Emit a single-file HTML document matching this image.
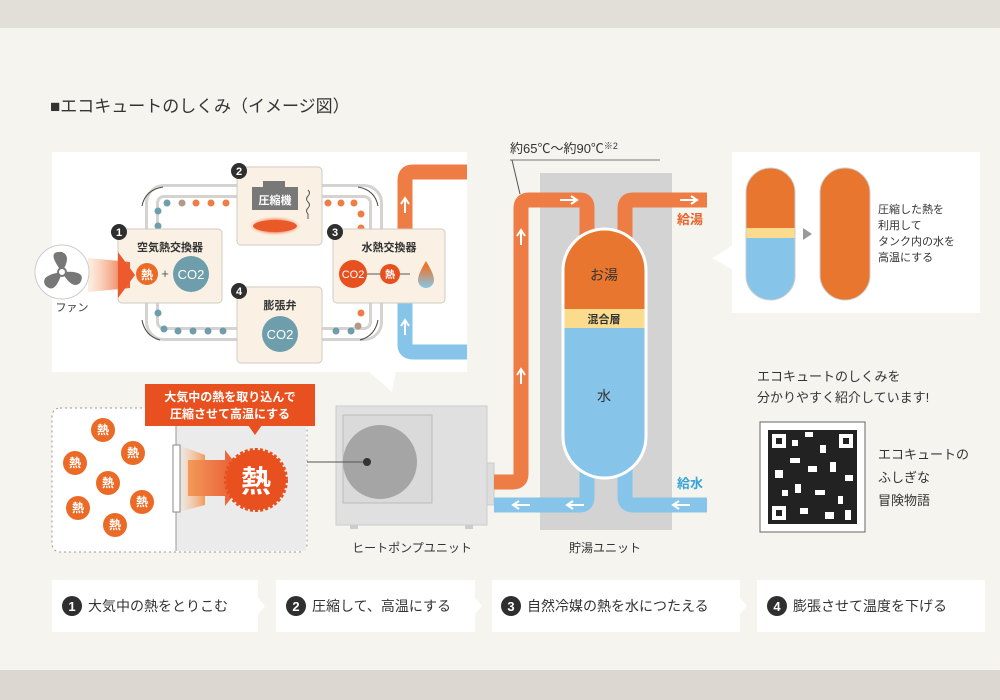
<!DOCTYPE html>
<html><head><meta charset="utf-8"><style>
html,body{margin:0;padding:0;width:1000px;height:700px;overflow:hidden;background:#f6f4ef}
svg{display:block}
text{font-family:"Liberation Sans","Noto Sans CJK JP",sans-serif}
</style></head><body>
<svg width="1000" height="700" viewBox="0 0 1000 700" xmlns="http://www.w3.org/2000/svg">
<defs>
<linearGradient id="fan" x1="0" x2="1"><stop offset="0" stop-color="#f7c79a" stop-opacity="0.3"/><stop offset="1" stop-color="#ec5a2e"/></linearGradient>
<linearGradient id="hg" x1="0" x2="1"><stop offset="0" stop-color="#f8c69a" stop-opacity="0"/><stop offset="1" stop-color="#f29a5a"/></linearGradient>
<linearGradient id="ar" x1="0" x2="1"><stop offset="0" stop-color="#f29a5a"/><stop offset="1" stop-color="#e84e2c"/></linearGradient>
<linearGradient id="drop" x1="0" y1="0" x2="0" y2="1"><stop offset="0.2" stop-color="#e9762f"/><stop offset="1" stop-color="#86c8e8"/></linearGradient>
<radialGradient id="glow"><stop offset="0.5" stop-color="#ea5a28"/><stop offset="1" stop-color="#fbd6c0" stop-opacity="0"/></radialGradient>
</defs>
<rect x="0" y="0" width="1000" height="28" fill="#e2ded8"/>
<rect x="0" y="670" width="1000" height="30" fill="#dcd8d1"/>
<text x="50" y="112" font-size="17" fill="#333">■エコキュートのしくみ（イメージ図）</text>

<!-- top-left panel -->
<rect x="52" y="152" width="415" height="220" fill="#fff"/>
<polygon points="368,371 396,371 392,392" fill="#fff"/>
<!-- pipes right of panel -->
<path d="M405,232 V180 Q405,172 413,172 H467" fill="none" stroke="#ee7d45" stroke-width="15"/>
<path d="M405,300 V345 Q405,352 413,352 H467" fill="none" stroke="#86c5e9" stroke-width="15"/>
<path d="M405,213 v-14 m-4,5 l4,-6 l4,6" stroke="#fff" stroke-width="2" fill="none"/>
<path d="M405,335 v-14 m-4,5 l4,-6 l4,6" stroke="#fff" stroke-width="2" fill="none"/>
<!-- loop -->
<rect x="152" y="191" width="224" height="143" rx="12" fill="none" stroke="#d5d3d0" stroke-width="14"/>
<rect x="152" y="191" width="224" height="143" rx="12" fill="none" stroke="#fff" stroke-width="8"/>
<g fill="#6e9dac">
<circle cx="158" cy="211" r="3.5"/><circle cx="158" cy="226" r="3.5"/><circle cx="167" cy="203" r="3.5"/>
<circle cx="158" cy="313" r="3.5"/><circle cx="164" cy="329" r="3.5"/><circle cx="178" cy="331" r="3.5"/><circle cx="193" cy="331" r="3.5"/><circle cx="208" cy="331" r="3.5"/><circle cx="223" cy="331" r="3.5"/>
<circle cx="336" cy="331" r="3.5"/><circle cx="351" cy="331" r="3.5"/>
</g>
<g fill="#ee7d45"><circle cx="196" cy="203" r="3.5"/><circle cx="211" cy="203" r="3.5"/><circle cx="226" cy="203" r="3.5"/>
<circle cx="328" cy="203" r="3.5"/><circle cx="341" cy="203" r="3.5"/><circle cx="354" cy="203" r="3.5"/><circle cx="361" cy="214" r="3.5"/><circle cx="361" cy="228" r="3.5"/><circle cx="361" cy="313" r="3.5"/></g>
<circle cx="182" cy="203" r="3.5" fill="#b19a86"/><circle cx="358" cy="326" r="3.5" fill="#b19a86"/>
<g fill="none" stroke="#444" stroke-width="1"><path d="M142,206 Q145,190 163,187"/><path d="M358,187 Q375,190 378,206"/><path d="M142,320 Q145,336 160,340"/><path d="M378,320 Q375,336 360,340"/></g>
<!-- boxes -->
<g fill="#faf1e4" stroke="#cfcac3" stroke-width="1">
<rect x="118" y="229" width="104" height="74" rx="4"/>
<rect x="237" y="167" width="85" height="78" rx="4"/>
<rect x="333" y="229" width="112" height="74" rx="4"/>
<rect x="237" y="287" width="85" height="76" rx="4"/>
</g>
<g fill="#2f2f2f"><circle cx="119" cy="232" r="8"/><circle cx="239" cy="171" r="8"/><circle cx="335" cy="232" r="8"/><circle cx="239" cy="291" r="8"/></g>
<g fill="#fff" font-size="11" font-weight="bold" text-anchor="middle"><text x="119" y="236">1</text><text x="239" y="175">2</text><text x="335" y="236">3</text><text x="239" y="295">4</text></g>
<g font-size="11" fill="#333" text-anchor="middle" font-weight="bold"><text x="170" y="251">空気熱交換器</text><text x="389" y="251">水熱交換器</text><text x="280" y="309">膨張弁</text></g>
<circle cx="147" cy="274" r="11" fill="#ea6a26"/><text x="147" y="279" font-size="12" fill="#fff" text-anchor="middle" font-weight="bold">熱</text>
<text x="165" y="278" font-size="13" fill="#555" text-anchor="middle">+</text>
<circle cx="191" cy="274" r="18" fill="#6e9dac"/><text x="191" y="279" font-size="13" fill="#fff" text-anchor="middle">CO2</text>
<circle cx="280" cy="334" r="18" fill="#6e9dac"/><text x="280" y="339" font-size="13" fill="#fff" text-anchor="middle">CO2</text>
<line x1="355" y1="274" x2="410" y2="274" stroke="#555"/>
<circle cx="353" cy="274" r="14" fill="#e8511f"/><text x="353" y="278" font-size="11" fill="#fff" text-anchor="middle">CO2</text>
<circle cx="390" cy="274" r="10" fill="#e8511f"/><text x="390" y="278" font-size="10" fill="#fff" text-anchor="middle" font-weight="bold">熱</text>
<path d="M426,261 Q418,274 418,280 a8,8 0 0 0 16,0 Q434,274 426,261Z" fill="url(#drop)"/>
<!-- compressor -->
<ellipse cx="275" cy="226" rx="27" ry="10" fill="url(#glow)"/>
<ellipse cx="275" cy="226" rx="22" ry="6" fill="#ea5a28"/>
<rect x="263" y="181" width="22" height="6" fill="#787878"/>
<rect x="252" y="187" width="46" height="23" fill="#787878"/>
<text x="275" y="204" font-size="11" fill="#fff" text-anchor="middle" font-weight="bold">圧縮機</text>
<path d="M308,190 q3,3 0,6 q-3,3 0,6 q3,3 0,6 q-3,3 0,6 v5" stroke="#555" fill="none"/>
<!-- fan -->
<polygon points="88,258 130,262 130,288 88,292" fill="url(#fan)"/>
<polygon points="118,252 135,275 118,298" fill="#ec5a2e"/>
<circle cx="62" cy="272" r="27" fill="#fff" stroke="#ccc"/>
<g fill="#777"><path d="M62,272 Q45,250 62,252 Q72,256 62,272"/><path d="M62,272 Q88,270 80,283 Q72,290 62,272"/><path d="M62,272 Q55,296 45,285 Q40,275 62,272"/></g>
<circle cx="62" cy="272" r="4" fill="#fff" stroke="#777" stroke-width="2"/>
<text x="72" y="311" font-size="11" fill="#333" text-anchor="middle">ファン</text>

<!-- lower-left panel -->
<rect x="52" y="408" width="255" height="144" rx="8" fill="#fff" stroke="#999" stroke-dasharray="2,3"/>
<rect x="176" y="409" width="130" height="142" fill="#ebebeb"/>
<line x1="176" y1="409" x2="176" y2="551" stroke="#999"/>
<polygon points="178,445 205,455 205,505 178,512" fill="url(#hg)"/>
<polygon points="188,460 225,460 225,450 247,478 225,506 225,496 188,496" fill="url(#ar)"/>
<rect x="173" y="445" width="7" height="67" fill="#fff" stroke="#888"/>
<g fill="#ea6a26"><circle cx="103" cy="430" r="12"/><circle cx="133" cy="453" r="12"/><circle cx="75" cy="463" r="12"/><circle cx="108" cy="483" r="12"/><circle cx="142" cy="502" r="12"/><circle cx="78" cy="508" r="12"/><circle cx="115" cy="525" r="12"/></g>
<g fill="#fff" font-size="12" font-weight="bold" text-anchor="middle"><text x="103" y="434">熱</text><text x="133" y="457">熱</text><text x="75" y="467">熱</text><text x="108" y="487">熱</text><text x="142" y="506">熱</text><text x="78" y="512">熱</text><text x="115" y="529">熱</text></g>
<circle cx="256" cy="480" r="30" fill="#e8511f" stroke="#e8511f" stroke-width="4" stroke-dasharray="3,2"/>
<text x="256" y="492" font-size="30" fill="#fff" text-anchor="middle" font-weight="bold">熱</text>
<rect x="145" y="384" width="170" height="42" fill="#e8511f"/>
<polygon points="248,425 262,425 255,435" fill="#e8511f"/>
<text x="230" y="401" font-size="12" fill="#fff" text-anchor="middle" font-weight="bold">大気中の熱を取り込んで</text>
<text x="230" y="418" font-size="12" fill="#fff" text-anchor="middle" font-weight="bold">圧縮させて高温にする</text>

<!-- heat pump -->
<rect x="486" y="463" width="8" height="42" fill="#ddd" stroke="#ccc"/>
<rect x="336" y="406" width="151" height="119" fill="#e0e0e0" stroke="#ccc"/>
<rect x="343" y="415" width="89" height="88" fill="#dadada" stroke="#bbb"/>
<circle cx="380" cy="462" r="37" fill="#a5a5a5"/>
<rect x="350" y="525" width="8" height="4" fill="#ccc"/><rect x="465" y="525" width="8" height="4" fill="#ccc"/>
<line x1="307" y1="462" x2="367" y2="462" stroke="#555"/>
<circle cx="367" cy="462" r="4" fill="#333"/>
<text x="412" y="552" font-size="12" fill="#333" text-anchor="middle">ヒートポンプユニット</text>

<!-- storage -->
<rect x="540" y="173" width="132" height="357" fill="#d3d3d3"/>
<path d="M494,482 H513 Q521,482 521,474 V208 Q521,200 529,200 H580 Q587,200 587,208 V240" fill="none" stroke="#ee7d45" stroke-width="15"/>
<path d="M625,240 V208 Q625,200 633,200 H707" fill="none" stroke="#ee7d45" stroke-width="15"/>
<path d="M494,505 H580 Q587,505 587,497 V460" fill="none" stroke="#86c5e9" stroke-width="15"/>
<path d="M707,505 H633 Q625,505 625,497 V460" fill="none" stroke="#86c5e9" stroke-width="15"/>
<g stroke="#fff" stroke-width="2" fill="none">
<path d="M560,200 h16 m-5,-4 l6,4 l-6,4"/><path d="M680,200 h16 m-5,-4 l6,4 l-6,4"/>
<path d="M521,245 v-14 m-4,5 l4,-6 l4,6"/><path d="M521,384 v-14 m-4,5 l4,-6 l4,6"/>
<path d="M530,505 h-16 m5,-4 l-6,4 l6,4"/><path d="M584,505 h-16 m5,-4 l-6,4 l6,4"/><path d="M690,505 h-16 m5,-4 l-6,4 l6,4"/>
</g>
<clipPath id="tank"><rect x="563" y="229" width="83" height="249" rx="41.5"/></clipPath>
<g clip-path="url(#tank)">
<rect x="563" y="229" width="83" height="80" fill="#e9762f"/>
<rect x="563" y="309" width="83" height="19" fill="#fbdc8e"/>
<rect x="563" y="328" width="83" height="150" fill="#86c5e9"/>
</g>
<rect x="563" y="229" width="83" height="249" rx="41.5" fill="none" stroke="#fff" stroke-width="3"/>
<text x="604" y="280" font-size="14" fill="#333" text-anchor="middle">お湯</text>
<text x="604" y="323" font-size="11" fill="#333" text-anchor="middle" font-weight="bold">混合層</text>
<text x="604" y="401" font-size="14" fill="#333" text-anchor="middle">水</text>
<text x="690" y="224" font-size="13" fill="#e8622a" text-anchor="middle" font-weight="bold">給湯</text>
<text x="690" y="488" font-size="13" fill="#3aa3d8" text-anchor="middle" font-weight="bold">給水</text>
<text x="510" y="153" font-size="13" fill="#333">約65℃～約90℃<tspan font-size="9" dy="-4">※2</tspan></text>
<line x1="510" y1="160" x2="660" y2="160" stroke="#777"/>
<line x1="512" y1="160" x2="520" y2="194" stroke="#555"/>
<text x="605" y="552" font-size="12" fill="#333" text-anchor="middle">貯湯ユニット</text>

<!-- right panel -->
<rect x="732" y="152" width="248" height="161" fill="#fff"/>
<polygon points="733,245 733,270 712,258" fill="#fff"/>
<clipPath id="c1"><rect x="746" y="168" width="49" height="132" rx="24.5"/></clipPath>
<g clip-path="url(#c1)"><rect x="746" y="168" width="49" height="60" fill="#e9762f"/><rect x="746" y="228" width="49" height="10" fill="#fbdc8e"/><rect x="746" y="238" width="49" height="62" fill="#86c5e9"/></g>
<rect x="746" y="168" width="49" height="132" rx="24.5" fill="none" stroke="#ccc"/>
<rect x="820" y="168" width="50" height="132" rx="25" fill="#e9762f" stroke="#ccc"/>
<polygon points="803,228 812,234 803,240" fill="#999"/>
<g font-size="11" fill="#333"><text x="878" y="213">圧縮した熱を</text><text x="878" y="229">利用して</text><text x="878" y="245">タンク内の水を</text><text x="878" y="261">高温にする</text></g>

<g font-size="13" fill="#333"><text x="757" y="381">エコキュートのしくみを</text><text x="757" y="402">分かりやすく紹介しています!</text></g>
<rect x="760" y="422" width="105" height="110" fill="#fff" stroke="#666"/>
<rect x="768" y="430" width="89" height="94" fill="#222"/>
<g fill="#fff"><rect x="772" y="434" width="14" height="14"/><rect x="839" y="434" width="14" height="14"/><rect x="772" y="506" width="14" height="14"/>
<rect x="792" y="440" width="6" height="6"/><rect x="805" y="432" width="8" height="5"/><rect x="820" y="445" width="6" height="8"/><rect x="790" y="458" width="10" height="5"/><rect x="775" y="470" width="8" height="8"/><rect x="808" y="466" width="9" height="6"/><rect x="830" y="462" width="6" height="10"/><rect x="845" y="475" width="8" height="6"/><rect x="795" y="484" width="6" height="9"/><rect x="815" y="490" width="10" height="5"/><rect x="838" y="496" width="5" height="8"/><rect x="800" y="508" width="8" height="6"/><rect x="825" y="512" width="9" height="7"/><rect x="845" y="510" width="6" height="10"/><rect x="782" y="490" width="6" height="6"/></g>
<g fill="#222"><rect x="776" y="438" width="6" height="6"/><rect x="843" y="438" width="6" height="6"/><rect x="776" y="510" width="6" height="6"/></g>
<g font-size="13" fill="#333"><text x="878" y="459">エコキュートの</text><text x="878" y="482">ふしぎな</text><text x="878" y="505">冒険物語</text></g>

<!-- steps -->
<g fill="#fff">
<polygon points="52,580 258,580 258,598 265,606 258,614 258,632 52,632"/>
<polygon points="276,580 475,580 475,598 482,606 475,614 475,632 276,632"/>
<polygon points="492,580 740,580 740,598 747,606 740,614 740,632 492,632"/>
<rect x="757" y="580" width="228" height="52"/>
</g>
<g fill="#2f2f2f"><circle cx="72" cy="606" r="10"/><circle cx="296" cy="606" r="10"/><circle cx="511" cy="606" r="10"/><circle cx="777" cy="606" r="10"/></g>
<g fill="#fff" font-size="13" font-weight="bold" text-anchor="middle"><text x="72" y="611">1</text><text x="296" y="611">2</text><text x="511" y="611">3</text><text x="777" y="611">4</text></g>
<g font-size="14" fill="#333"><text x="88" y="611">大気中の熱をとりこむ</text><text x="312" y="611">圧縮して、高温にする</text><text x="527" y="611">自然冷媒の熱を水につたえる</text><text x="793" y="611">膨張させて温度を下げる</text></g>
</svg>
</body></html>
